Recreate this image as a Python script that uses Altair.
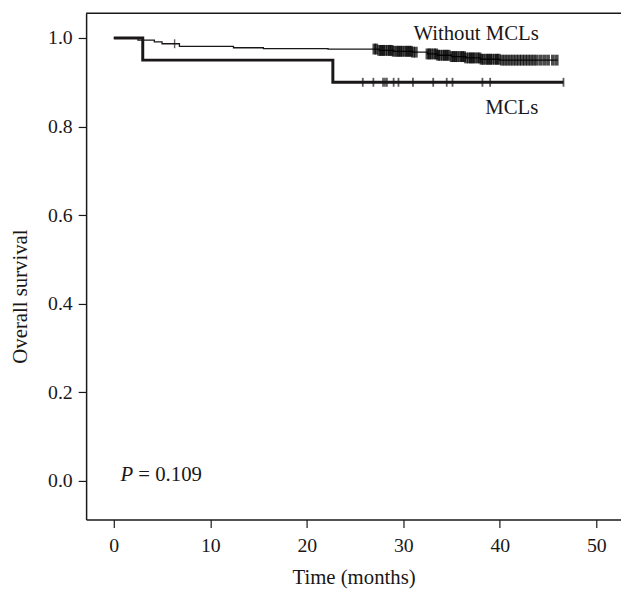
import altair as alt
import pandas as pd

# ---- data ----
wo_times = [0, 2.5, 4.2, 5.0, 6.8, 12.4, 15.5, 22.2, 27.5, 29.0, 31.0, 32.5, 33.5, 35.0, 36.5, 38.0, 40.0, 46.0]
wo_surv = [1.0, 0.995, 0.991, 0.987, 0.981, 0.978, 0.976, 0.975, 0.972, 0.970, 0.968, 0.964, 0.961, 0.958, 0.955, 0.952, 0.950, 0.950]
wo_censor_early = [6.3]
wo_censor = [27.0, 27.2, 27.5, 27.7, 27.9, 28.1, 28.4, 28.6, 28.8, 29.0, 29.3, 29.5, 29.7, 29.9, 30.2, 30.4, 30.6, 30.8, 31.0, 31.3,
             32.5, 32.7, 32.9, 33.2, 33.4, 33.6, 33.8, 34.1, 34.3, 34.5, 34.7, 35.0, 35.2, 35.4, 35.6, 35.9, 36.1, 36.3, 36.5,
             36.8, 37.0, 37.2, 37.4, 37.7, 37.9, 38.1, 38.3, 38.6, 38.8, 39.0, 39.2, 39.5, 39.7, 39.9, 40.2, 40.5, 40.8, 41.1,
             41.4, 41.7, 42.0, 42.3, 42.6, 42.9, 43.2, 43.5, 43.8, 44.2, 44.6, 45.0, 45.5, 45.9]

mcl_times = [0, 3.0, 22.7, 46.6]
mcl_surv = [1.0, 0.95, 0.90, 0.90]
mcl_censor = [25.8, 26.9, 27.9, 28.1, 28.3, 29.0, 29.5, 31.0, 33.1, 34.5, 35.1, 38.2, 39.0, 46.6]

x_ticks = [0, 10, 20, 30, 40, 50]
y_ticks = [0.0, 0.2, 0.4, 0.6, 0.8, 1.0]


def surv_at(times, surv, t):
    s = surv[0]
    for ti, si in zip(times, surv):
        if ti <= t:
            s = si
    return s


wo_df = pd.DataFrame({"t": wo_times, "s": wo_surv})
mcl_df = pd.DataFrame({"t": mcl_times, "s": mcl_surv})
wo_c = pd.DataFrame({"t": wo_censor, "s": [surv_at(wo_times, wo_surv, t) for t in wo_censor]})
wo_c0 = pd.DataFrame({"t": wo_censor_early, "s": [surv_at(wo_times, wo_surv, t) for t in wo_censor_early]})
mcl_c = pd.DataFrame({"t": mcl_censor, "s": [surv_at(mcl_times, mcl_surv, t) for t in mcl_censor]})

W, H = 541, 512
FONT = "Liberation Serif"
INK = "#1a1718"

xs = alt.Scale(domain=[-2.87, 52.56], nice=False, zero=False)
ys = alt.Scale(domain=[-0.087, 1.0558], nice=False, zero=False)

X = alt.X("t:Q", scale=xs,
          axis=alt.Axis(values=x_ticks, title="Time (months)", grid=False, format="d",
                        tickSize=8, labelPadding=8, titleY=65, titleBaseline="alphabetic"))
Y = alt.Y("s:Q", scale=ys,
          axis=alt.Axis(values=y_ticks, title="Overall survival", grid=False, format=".1f",
                        tickSize=8, labelPadding=6, titleX=-60, titleY=286, titleBaseline="alphabetic"))

wo_line = alt.Chart(wo_df).mark_line(interpolate="step-after", color=INK, strokeWidth=1.3).encode(x=X, y=Y)
mcl_line = alt.Chart(mcl_df).mark_line(interpolate="step-after", color=INK, strokeWidth=3).encode(x="t:Q", y="s:Q")
wo_ticks = alt.Chart(wo_c).mark_tick(orient="vertical", size=11, thickness=3.8, color="#000000").encode(x="t:Q", y="s:Q")
wo_ticks0 = alt.Chart(wo_c0).mark_tick(orient="vertical", size=9, thickness=1.4, color=INK).encode(x="t:Q", y="s:Q")
mcl_ticks = alt.Chart(mcl_c).mark_tick(orient="vertical", size=9, thickness=1.8, color=INK).encode(x="t:Q", y="s:Q")

labels = pd.DataFrame({"t": [31.05, 38.5], "s": [0.996, 0.828], "txt": ["Without MCLs", "MCLs"]})
lab = alt.Chart(labels).mark_text(align="left", baseline="alphabetic", font=FONT, fontSize=21, color=INK).encode(
    x="t:Q", y="s:Q", text="txt:N")

pval = pd.DataFrame({"t": [0.7], "s": [0.0]})
p1 = alt.Chart(pval).mark_text(align="left", baseline="alphabetic", font=FONT, fontSize=21,
                               fontStyle="italic", color=INK, text="P").encode(x="t:Q", y="s:Q")
p2 = alt.Chart(pval).mark_text(align="left", baseline="alphabetic", font=FONT, fontSize=21,
                               color=INK, dx=18, text="= 0.109").encode(x="t:Q", y="s:Q")

top = alt.Chart(pval).mark_rule(color=INK, strokeWidth=1.5).encode(
    x=alt.value(0), x2=alt.value(W), y=alt.value(0))

chart = alt.layer(wo_line, mcl_line, wo_ticks, wo_ticks0, mcl_ticks, lab, p1, p2, top).properties(
    width=W, height=H,
    background="white",
    autosize=alt.AutoSizeParams(type="none"),
    padding={"left": 79, "top": 2, "right": 0, "bottom": 70},
).configure_view(stroke=None).configure_axis(
    domainColor=INK, domainWidth=1.5, tickColor=INK, tickWidth=1.2,
    labelFont=FONT, labelFontSize=20, labelColor=INK,
    titleFont=FONT, titleFontSize=21, titleColor=INK, titleFontWeight="normal",
)

chart.save("out.html", embed_options={"renderer": "svg", "actions": False})
